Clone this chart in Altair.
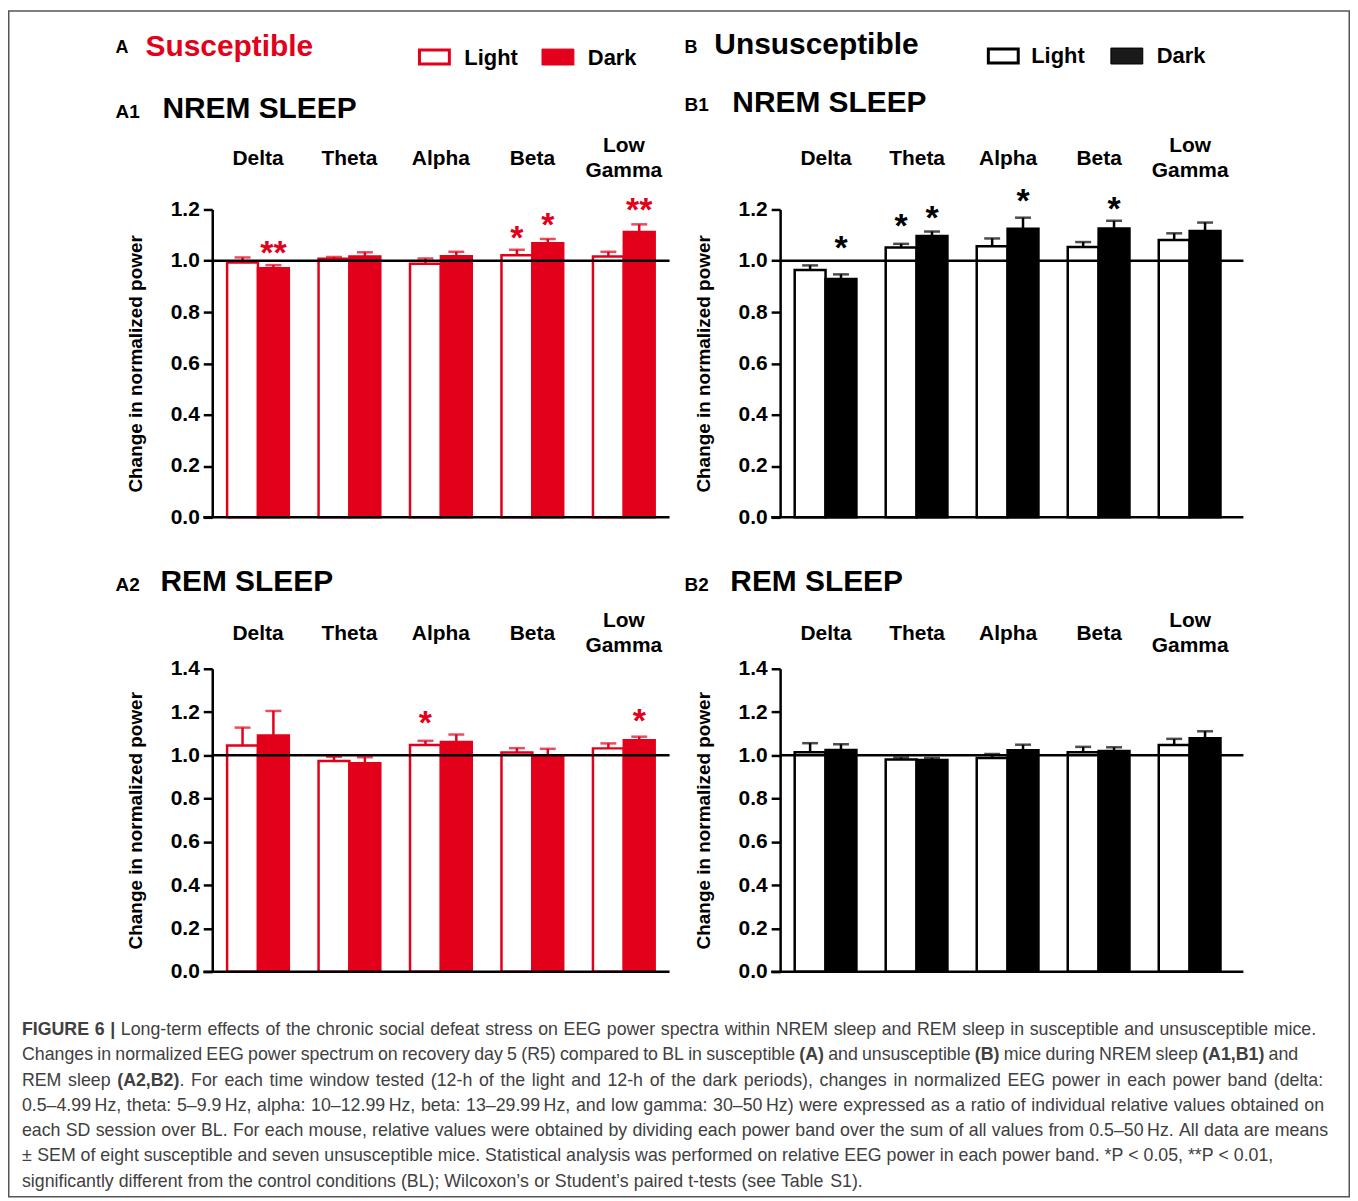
import altair as alt
import pandas as pd

RED = "#e2001a"
BLACK = "#000000"
FONT = "Liberation Sans, Arial, Helvetica, sans-serif"
CAP_COLOR = "#404040"

bands = ["Delta", "Theta", "Alpha", "Beta", "Low Gamma"]
series = ["Light", "Dark"]
# band labels as printed above the groups (Low Gamma on two lines)
band_label_lines = [["Delta"], ["Theta"], ["Alpha"], ["Beta"], ["Low", "Gamma"]]

# ---- A1: Susceptible, NREM sleep ----
a1_light = [0.993, 1.008, 0.988, 1.022, 1.017]
a1_light_err = [0.020, 0.007, 0.021, 0.021, 0.018]
a1_dark = [0.971, 1.017, 1.018, 1.068, 1.112]
a1_dark_err = [0.012, 0.016, 0.017, 0.017, 0.030]
a1_light_star = ["", "", "", "*", ""]
a1_light_star_y = [0, 0, 0, 1.094, 0]
a1_dark_star = ["**", "", "", "*", "**"]
a1_dark_star_y = [1.033, 0, 0, 1.145, 1.202]

# ---- B1: Unsusceptible, NREM sleep ----
b1_light = [0.964, 1.052, 1.057, 1.054, 1.081]
b1_light_err = [0.018, 0.014, 0.030, 0.019, 0.026]
b1_dark = [0.929, 1.097, 1.125, 1.126, 1.116]
b1_dark_err = [0.018, 0.017, 0.043, 0.030, 0.033]
b1_light_star = ["", "*", "", "", ""]
b1_light_star_y = [0, 1.139, 0, 0, 0]
b1_dark_star = ["*", "*", "*", "*", ""]
b1_dark_star_y = [1.055, 1.169, 1.237, 1.206, 0]

# ---- A2: Susceptible, REM sleep ----
a2_light = [1.045, 0.974, 1.048, 1.013, 1.032]
a2_light_err = [0.083, 0.019, 0.019, 0.020, 0.023]
a2_dark = [1.092, 0.963, 1.062, 0.997, 1.069]
a2_dark_err = [0.113, 0.028, 0.034, 0.033, 0.017]
a2_light_star = ["", "", "*", "", ""]
a2_light_star_y = [0, 0, 1.152, 0, 0]
a2_dark_star = ["", "", "", "", "*"]
a2_dark_star_y = [0, 0, 0, 0, 1.161]

# ---- B2: Unsusceptible, REM sleep ----
b2_light = [1.014, 0.981, 0.988, 1.014, 1.048]
b2_light_err = [0.042, 0.009, 0.018, 0.025, 0.028]
b2_dark = [1.025, 0.978, 1.023, 1.020, 1.079]
b2_dark_err = [0.026, 0.010, 0.026, 0.017, 0.032]
b2_light_star = ["", "", "", "", ""]
b2_light_star_y = [0, 0, 0, 0, 0]
b2_dark_star = ["", "", "", "", ""]
b2_dark_star_y = [0, 0, 0, 0, 0]

ticks_12 = [0.0, 0.2, 0.4, 0.6, 0.8, 1.0, 1.2]
ticks_14 = [0.0, 0.2, 0.4, 0.6, 0.8, 1.0, 1.2, 1.4]

# caption: (segment text, bold, glued to previous segment)
caption_lines = [
    [("FIGURE 6 |", True, False),
     ("Long-term effects of the chronic social defeat stress on EEG power spectra within NREM sleep and REM sleep in susceptible and unsusceptible mice.", False, False)],
    [("Changes in normalized EEG power spectrum on recovery day 5 (R5) compared to BL in susceptible", False, False),
     ("(A)", True, False), ("and unsusceptible", False, False), ("(B)", True, False),
     ("mice during NREM sleep", False, False), ("(A1,B1)", True, False), ("and", False, False)],
    [("REM sleep", False, False), ("(A2,B2)", True, False),
     (". For each time window tested (12-h of the light and 12-h of the dark periods), changes in normalized EEG power in each power band (delta:", False, True)],
    [("0.5\u20134.99\u2009Hz, theta: 5\u20139.9\u2009Hz, alpha: 10\u201312.99\u2009Hz, beta: 13\u201329.99\u2009Hz, and low gamma: 30\u201350\u2009Hz) were expressed as a ratio of individual relative values obtained on", False, False)],
    [("each SD session over BL. For each mouse, relative values were obtained by dividing each power band over the sum of all values from 0.5\u201350\u2009Hz. All data are means", False, False)],
    [("\u00b1 SEM of eight susceptible and seven unsusceptible mice. Statistical analysis was performed on relative EEG power in each power band. *P < 0.05, **P < 0.01,", False, False)],
    [("significantly different from the control conditions (BL); Wilcoxon\u2019s or Student\u2019s paired t-tests (see Table S1).", False, False)],
]
caption_y = [1032, 1057, 1083, 1108, 1133, 1158, 1184]
caption_end = [1321, 1303, 1328, 1329, 1333, 1278, 866]
caption_x0 = 22

# ---- layout (page pixel coordinates of each plot origin) ----
A_W, B_W = 459, 465
ROW1_H, ROW2_H = 309, 304
ORIG = {"A1": (213, 208), "B1": (783, 208), "A2": (213, 669), "B2": (783, 669)}

one = pd.DataFrame({"k": [0]})

# Arial / Helvetica advance widths (1/1000 em) used to lay out caption words
_REG = {' ': 278, '!': 278, '"': 355, '#': 556, '$': 556, '%': 889, '&': 667, "'": 191,
        '(': 333, ')': 333, '*': 389, '+': 584, ',': 278, '-': 333, '.': 278, '/': 278,
        ':': 278, ';': 278, '<': 584, '=': 584, '>': 584, '?': 556, '@': 1015,
        'A': 667, 'B': 667, 'C': 722, 'D': 722, 'E': 667, 'F': 611, 'G': 778, 'H': 722,
        'I': 278, 'J': 500, 'K': 667, 'L': 556, 'M': 833, 'N': 722, 'O': 778, 'P': 667,
        'Q': 778, 'R': 722, 'S': 667, 'T': 611, 'U': 722, 'V': 667, 'W': 944, 'X': 667,
        'Y': 667, 'Z': 611, '[': 278, ']': 278, 'a': 556, 'b': 556, 'c': 500, 'd': 556,
        'e': 556, 'f': 278, 'g': 556, 'h': 556, 'i': 222, 'j': 222, 'k': 500, 'l': 222,
        'm': 833, 'n': 556, 'o': 556, 'p': 556, 'q': 556, 'r': 333, 's': 500, 't': 278,
        'u': 556, 'v': 500, 'w': 722, 'x': 500, 'y': 500, 'z': 500, '|': 260,
        '\u2013': 556, '\u00b1': 584, '\u2019': 222, '\u2009': 200}
for _d in "0123456789":
    _REG[_d] = 556
_BOLD = dict(_REG)
_BOLD.update({'(': 333, ')': 333, ',': 278, '|': 280, 'A': 722, 'B': 722, 'E': 667,
              'F': 611, 'G': 778, 'I': 278, 'R': 722, 'U': 722})


def em_width(s, bold=False):
    tab = _BOLD if bold else _REG
    return sum(tab.get(c, 556) for c in s) / 1000.0


def caption_words():
    lines = []
    for segs in caption_lines:
        toks = []
        for text, bold, glue in segs:
            words = text.split(" ")
            for j, w in enumerate(words):
                toks.append((w, bold, glue and j == 0))
        lines.append(toks)
    last = lines[-1]
    nat = sum(em_width(w, b) for w, b, g in last) + em_width(" ") * sum(1 for w, b, g in last[1:] if not g)
    fs = (caption_end[-1] - caption_x0) / nat
    rows = []
    for li, toks in enumerate(lines):
        widths = [em_width(w, b) * fs for w, b, g in toks]
        gaps = [0 if g else 1 for w, b, g in toks[1:]]
        ngap = sum(gaps)
        space = (caption_end[li] - caption_x0 - sum(widths)) / max(ngap, 1)
        x = caption_x0
        for k, (w, b, g) in enumerate(toks):
            if k > 0:
                x += space * gaps[k - 1]
            rows.append(dict(word=w, bold=b, px=x, py=caption_y[li]))
            x += widths[k]
    return pd.DataFrame(rows), fs


def text_at(panel, px, py, s, size, color=BLACK, weight="bold", align="left"):
    ox, oy = ORIG[panel]
    return alt.Chart(one).mark_text(
        text=s, fontSize=size, fontWeight=weight, color=color, align=align,
        baseline="middle", font=FONT,
    ).encode(x=alt.value(px - ox), y=alt.value(py - oy))


def box_at(panel, x1, y1, x2, y2, fill, stroke, sw, fill_opacity=1):
    ox, oy = ORIG[panel]
    return alt.Chart(one).mark_rect(
        fill=fill, fillOpacity=fill_opacity, stroke=stroke, strokeWidth=sw
    ).encode(x=alt.value(x1 - ox), x2=alt.value(x2 - ox),
             y=alt.value(y1 - oy), y2=alt.value(y2 - oy))


def panel(light, light_err, dark, dark_err, ls, lsy, ds, dsy, color, ymax, yticks,
          width, height, label_gap, pin, pout, palign, extras):
    rows = []
    for i, b in enumerate(bands):
        rows.append(dict(band=b, series="Light", value=light[i], top=light[i] + light_err[i],
                         star=ls[i], star_y=lsy[i]))
        rows.append(dict(band=b, series="Dark", value=dark[i], top=dark[i] + dark_err[i],
                         star=ds[i], star_y=dsy[i]))
    df = pd.DataFrame(rows)

    # band labels above the plot (pixel rows, centred on label_gap above the plot top)
    lab_rows = []
    for b, lines in zip(bands, band_label_lines):
        n = len(lines)
        for k, t in enumerate(lines):
            lab_rows.append(dict(band=b, txt=t, ly=-label_gap + (k - (n - 1) / 2) * 25))
    lab_df = pd.DataFrame(lab_rows)

    x = alt.X("band:N", scale=alt.Scale(domain=bands, paddingInner=pin, paddingOuter=pout,
                                        align=palign), axis=None)
    xo = alt.XOffset("series:N", scale=alt.Scale(domain=series, paddingInner=0, paddingOuter=0))
    yaxis = alt.Axis(
        values=yticks, format=".1f", title="Change in normalized power",
        titleFont=FONT, titleFontSize=19, titleFontWeight="bold", titleColor=BLACK,
        titleAngle=270, titleX=-77, titleY=height / 2, titleBaseline="middle", titleAlign="center",
        labelFont=FONT, labelFontSize=21, labelFontWeight="bold", labelColor=BLACK,
        labelPadding=4, tickSize=9, tickWidth=2.5, tickColor=BLACK,
        domainColor=BLACK, domainWidth=2.5, grid=False,
    )
    yscale = alt.Scale(domain=[0, ymax], nice=False, zero=True)

    bars = alt.Chart(df).mark_bar(stroke=color, strokeWidth=2.5).encode(
        x=x, xOffset=xo,
        y=alt.Y("value:Q", scale=yscale, axis=yaxis),
        fill=alt.condition("datum.series == 'Light'", alt.value("white"), alt.value(color)),
    )
    err = alt.Chart(df).mark_rule(color=color, strokeWidth=2.5).encode(
        x=x, xOffset=xo, y=alt.Y("value:Q", scale=yscale, axis=yaxis), y2="top:Q")
    cap = alt.Chart(df).mark_tick(color=color, thickness=2.5, size=16).encode(
        x=x, xOffset=xo, y=alt.Y("top:Q", scale=yscale, axis=yaxis))
    ref = alt.Chart(one).mark_rule(color=BLACK, strokeWidth=2.5).encode(
        x=alt.value(0), x2=alt.value(width), y=alt.datum(1.0))
    base = alt.Chart(one).mark_rule(color=BLACK, strokeWidth=2.5).encode(
        x=alt.value(-9), x2=alt.value(width), y=alt.datum(0.0))
    stars = alt.Chart(df).transform_filter("datum.star != ''").mark_text(
        font=FONT, fontSize=34, fontWeight="bold", color=color, align="center",
        baseline="alphabetic", dy=12,
    ).encode(x=x, xOffset=xo, y=alt.Y("star_y:Q", scale=yscale, axis=yaxis), text="star:N")
    blabels = alt.Chart(lab_df).mark_text(
        font=FONT, fontSize=21, fontWeight="bold", color=BLACK, align="center",
        baseline="middle",
    ).encode(x=x, y=alt.Y("ly:Q", scale=None, axis=None), text="txt:N")

    return alt.layer(bars, err, cap, ref, base, stars, blabels, *extras).properties(
        width=width, height=height)


# ---- annotations ----
a1_extras = [
    box_at("A1", 8.75, 8.75, 1354.25, 1199, "white", "#555555", 1.5, fill_opacity=0),
    text_at("A1", 116, 46, "A", 18),
    text_at("A1", 146, 45, "Susceptible", 30, color=RED),
    box_at("A1", 421, 48, 451, 62, "white", RED, 3),
    text_at("A1", 466, 56, "Light", 22),
    box_at("A1", 544, 47, 576, 63, RED, RED, 1),
    text_at("A1", 590, 56, "Dark", 22),
    text_at("A1", 116, 110, "A1", 19),
    text_at("A1", 163, 107, "NREM SLEEP", 30),
]
b1_extras = [
    text_at("B1", 687, 46, "B", 18),
    text_at("B1", 717, 43, "Unsusceptible", 30),
    box_at("B1", 992, 47, 1022, 61, "white", BLACK, 3),
    text_at("B1", 1035, 54, "Light", 22),
    box_at("B1", 1115, 46, 1147, 62, "#1a1a1a", BLACK, 1),
    text_at("B1", 1161, 54, "Dark", 22),
    text_at("B1", 687, 103, "B1", 19),
    text_at("B1", 735, 101, "NREM SLEEP", 30),
]

cap_df, cap_fs = caption_words()
ox2, oy2 = ORIG["A2"]
cap_df["rx"] = cap_df["px"] - ox2
cap_df["ry"] = cap_df["py"] - oy2
cap_layers = []
for is_bold in (False, True):
    sub = cap_df[cap_df["bold"] == is_bold][["word", "rx", "ry"]]
    cap_layers.append(
        alt.Chart(sub).mark_text(
            font=FONT, fontSize=cap_fs, fontWeight="bold" if is_bold else "normal",
            color=CAP_COLOR, align="left", baseline="middle",
        ).encode(
            x=alt.X("rx:Q", scale=None, axis=None),
            y=alt.Y("ry:Q", scale=None, axis=None),
            text="word:N",
        )
    )

a2_extras = [
    text_at("A2", 116, 585, "A2", 19),
    text_at("A2", 161, 582, "REM SLEEP", 30),
] + cap_layers
b2_extras = [
    text_at("B2", 687, 585, "B2", 19),
    text_at("B2", 733, 582, "REM SLEEP", 30),
]

A1 = panel(a1_light, a1_light_err, a1_dark, a1_dark_err, a1_light_star, a1_light_star_y,
           a1_dark_star, a1_dark_star_y, RED, 1.2, ticks_12, A_W, ROW1_H, 51,
           0.325, 0.1625, 0.5, a1_extras)
B1 = panel(b1_light, b1_light_err, b1_dark, b1_dark_err, b1_light_star, b1_light_star_y,
           b1_dark_star, b1_dark_star_y, BLACK, 1.2, ticks_12, B_W, ROW1_H, 51,
           0.31, 0.2, 0.4, b1_extras)
A2 = panel(a2_light, a2_light_err, a2_dark, a2_dark_err, a2_light_star, a2_light_star_y,
           a2_dark_star, a2_dark_star_y, RED, 1.4, ticks_14, A_W, ROW2_H, 35,
           0.325, 0.1625, 0.5, a2_extras)
B2 = panel(b2_light, b2_light_err, b2_dark, b2_dark_err, b2_light_star, b2_light_star_y,
           b2_dark_star, b2_dark_star_y, BLACK, 1.4, ticks_14, B_W, ROW2_H, 35,
           0.31, 0.2, 0.4, b2_extras)

chart = alt.concat(
    A1, B1, A2, B2, columns=2,
    spacing={"row": 152, "column": 111}, bounds="flush", align="each",
).resolve_scale(
    x="independent", y="independent"
).properties(
    padding={"left": 0, "top": 0, "right": 0, "bottom": 0},
    background="white",
).configure(font=FONT).configure_view(strokeWidth=0)

chart.save("out.html", embed_options={"renderer": "svg", "actions": False})
